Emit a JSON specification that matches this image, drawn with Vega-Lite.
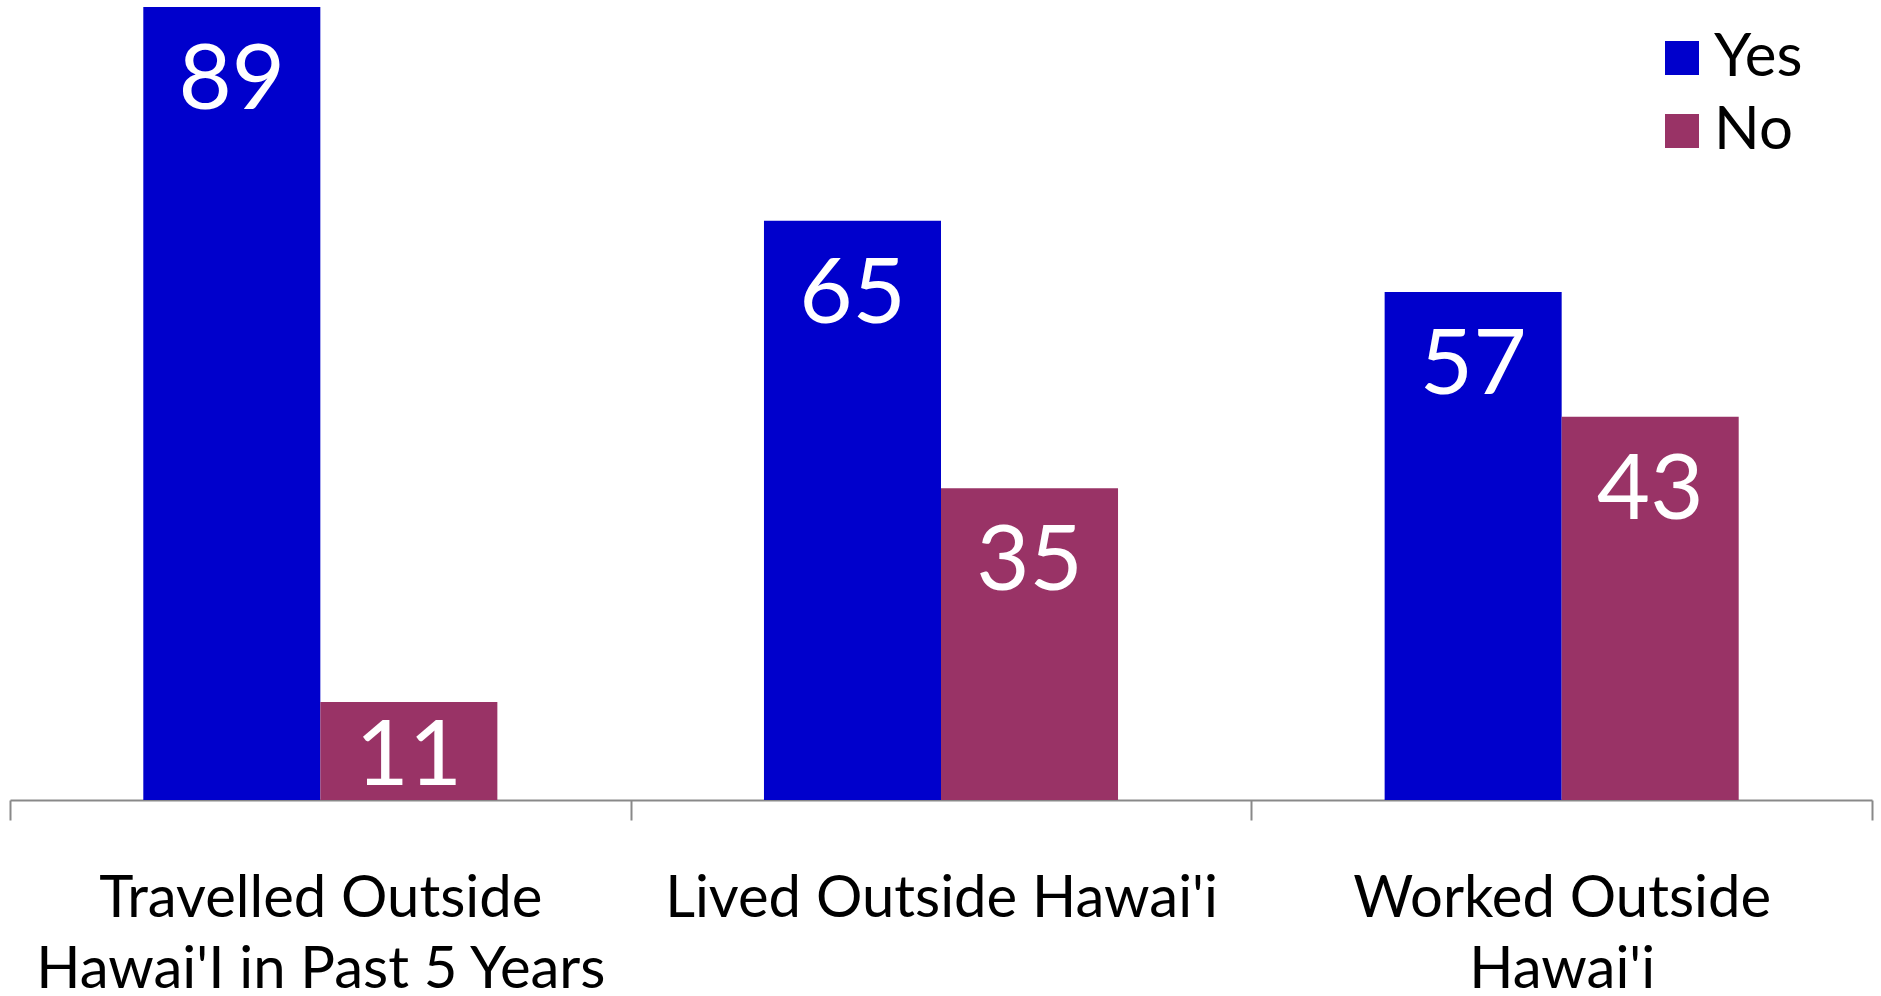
{
  "$schema": "https://vega.github.io/schema/vega-lite/v6.json",
  "width": 1862,
  "height": 793,
  "autosize": {"type": "none"},
  "padding": {"left": 10, "top": 7, "right": 9, "bottom": 196},
  "background": "white",
  "config": {"view": {"stroke": null}, "font": "Lato"},
  "data": {
    "values": [
      {"category": "Travelled Outside|Hawai'I in Past 5 Years", "answer": "Yes", "value": 89},
      {"category": "Travelled Outside|Hawai'I in Past 5 Years", "answer": "No", "value": 11},
      {"category": "Lived Outside Hawai'i", "answer": "Yes", "value": 65},
      {"category": "Lived Outside Hawai'i", "answer": "No", "value": 35},
      {"category": "Worked Outside|Hawai'i", "answer": "Yes", "value": 57},
      {"category": "Worked Outside|Hawai'i", "answer": "No", "value": 43}
    ]
  },
  "transform": [{"calculate": "max(datum.value, 13.1)", "as": "labelPos"}],
  "encoding": {
    "x": {
      "field": "category",
      "type": "nominal",
      "sort": null,
      "scale": {"paddingInner": 0, "paddingOuter": 0},
      "axis": {
        "title": null,
        "labelExpr": "split(datum.label, '|')",
        "labelAngle": 0,
        "labelFontSize": 58,
        "labelFont": "Lato",
        "labelColor": "black",
        "labelLineHeight": 71,
        "labelLimit": 0,
        "labelPadding": 50,
        "tickSize": 20,
        "tickBand": "extent",
        "tickColor": "#898989",
        "tickWidth": 2,
        "domainColor": "#898989",
        "domainWidth": 2,
        "grid": false
      }
    },
    "xOffset": {
      "field": "answer",
      "type": "nominal",
      "sort": ["Yes", "No"],
      "scale": {"paddingInner": 0, "paddingOuter": 0.753}
    }
  },
  "layer": [
    {
      "mark": {"type": "bar"},
      "encoding": {
        "y": {
          "field": "value",
          "type": "quantitative",
          "scale": {"domain": [0, 89], "nice": false, "zero": true},
          "axis": null
        },
        "color": {
          "field": "answer",
          "type": "nominal",
          "sort": ["Yes", "No"],
          "scale": {"domain": ["Yes", "No"], "range": ["#0000CC", "#993366"]},
          "legend": {
            "title": null,
            "orient": "none",
            "legendX": 1642,
            "legendY": 21,
            "symbolType": "square",
            "symbolSize": 1156,
            "symbolStrokeWidth": 0,
            "symbolOpacity": 1,
            "labelFontSize": 60,
            "labelFont": "Lato",
            "labelColor": "black",
            "labelOffset": 2,
            "rowPadding": 13,
            "padding": 0
          }
        }
      }
    },
    {
      "mark": {"type": "text", "baseline": "alphabetic", "dy": 102, "fontSize": 92, "color": "white", "font": "Lato"},
      "encoding": {
        "y": {"field": "labelPos", "type": "quantitative"},
        "text": {"field": "value", "type": "quantitative"}
      }
    }
  ]
}
